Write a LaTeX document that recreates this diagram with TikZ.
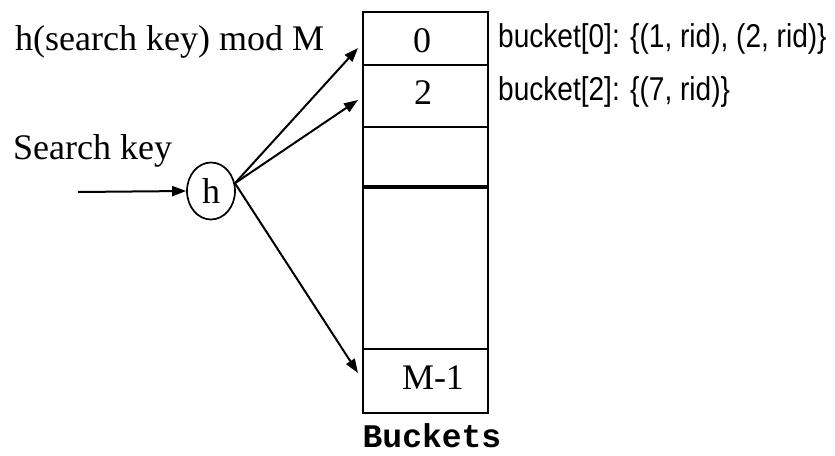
\documentclass[tikz,border=0pt]{standalone}
\usepackage{fontspec}
\setmainfont{Liberation Serif}
\newfontfamily\labelsans[FakeStretch=0.85]{Liberation Sans}
\newfontfamily\labelmono{Liberation Mono}
\usetikzlibrary{arrows.meta,shapes.geometric}
\tikzset{
  cell/.style={draw, line width=2.2pt, rectangle, inner sep=0pt, anchor=north west},
  serif36/.style={font=\fontsize{36}{40}\selectfont, inner sep=0pt},
  sans/.style={font=\labelsans\fontsize{33}{38}\selectfont, inner sep=0pt, anchor=base west},
  arr/.style={line width=2pt, -{Triangle[length=14pt,width=10pt]}},
}
\begin{document}
\begin{tikzpicture}[x=1pt,y=-1pt]
\useasboundingbox (0,0) rectangle (835,455);
% bucket cells
\node[cell, minimum width=125pt, minimum height=53pt] (c0) at (362,11) {};
\node[cell, minimum width=125pt, minimum height=62pt] (c2) at (362,64) {};
\node[cell, minimum width=125pt, minimum height=61pt] (c3) at (362,126) {};
\node[cell, minimum width=125pt, minimum height=161pt] (c4) at (362,187) {};
\node[cell, minimum width=125pt, minimum height=64pt] (cM) at (362,348) {};
\draw[line width=3.2pt] (c4.north west) -- (c4.north east);
% cell labels
\node[serif36, anchor=base] (l0) at (422,52) {0};
\node[serif36, anchor=base] (l2) at (423,104) {2};
\node[serif36, anchor=base] (lM) at (433,389) {M-1};
% left texts
\node[serif36, anchor=base west] (hmod) at (15,50) {h(search key) mod M};
\node[serif36, anchor=base west] (skey) at (13,159) {Search key};
% hash function
\node[draw, ellipse, line width=1.7pt, minimum width=48pt, minimum height=57pt, inner sep=0pt, serif36] (h) at (211,191) {h};
\coordinate (in) at (78,192);
\draw[arr] (in) -- (h.west);
\coordinate (t0) at (358,48);
\coordinate (t2) at (358,100);
\coordinate (tM) at (358,373);
\draw[arr] (h.18) -- (t0);
\draw[arr] (h.18) -- (t2);
\draw[arr] (h.18) -- (tM);
% bucket contents
\node[sans] (b0) at (498,47) {bucket[0]: \{(1, rid), (2, rid)\}};
\node[sans] (b2) at (498,100) {bucket[2]: \{(7, rid)\}};
% caption
\node[font=\labelmono\bfseries\fontsize{33}{38}\selectfont, anchor=base, inner sep=0pt] (cap) at (432,447) {Buckets};
\end{tikzpicture}
\end{document}
